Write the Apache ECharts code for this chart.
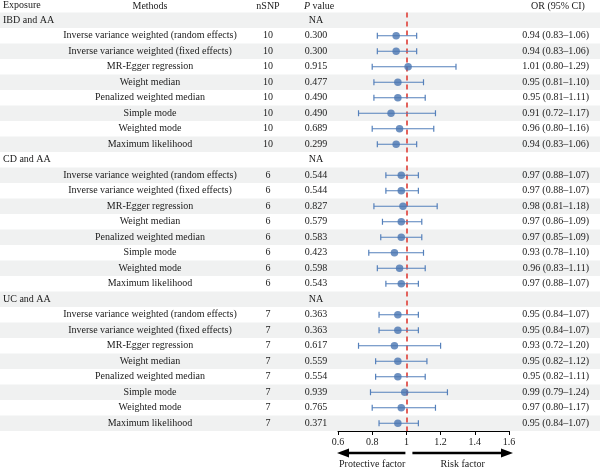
<!DOCTYPE html>
<html><head><meta charset="utf-8">
<script src="https://cdn.jsdelivr.net/npm/echarts@6/dist/echarts.min.js"></script>
<style>html,body{margin:0;padding:0;background:#fff}#c{width:600px;height:467px}</style>
</head><body><div id="c"></div>
<script>
const groups = ['IBD and AA', 'CD and AA', 'UC and AA'];
const methods = ['Inverse variance weighted (random effects)', 'Inverse variance weighted (fixed effects)', 'MR-Egger regression', 'Weight median', 'Penalized weighted median', 'Simple mode', 'Weighted mode', 'Maximum likelihood'];
const nSNP = [10, 6, 7];
const orIBD = [0.94, 0.94, 1.01, 0.95, 0.95, 0.91, 0.96, 0.94];
const loIBD = [0.83, 0.83, 0.80, 0.81, 0.81, 0.72, 0.80, 0.83];
const hiIBD = [1.06, 1.06, 1.29, 1.10, 1.11, 1.17, 1.16, 1.06];
const pIBD = ['0.300', '0.300', '0.915', '0.477', '0.490', '0.490', '0.689', '0.299'];
const orCD = [0.97, 0.97, 0.98, 0.97, 0.97, 0.93, 0.96, 0.97];
const loCD = [0.88, 0.88, 0.81, 0.86, 0.85, 0.78, 0.83, 0.88];
const hiCD = [1.07, 1.07, 1.18, 1.09, 1.09, 1.10, 1.11, 1.07];
const pCD = ['0.544', '0.544', '0.827', '0.579', '0.583', '0.423', '0.598', '0.543'];
const orUC = [0.95, 0.95, 0.93, 0.95, 0.95, 0.99, 0.97, 0.95];
const loUC = [0.84, 0.84, 0.72, 0.82, 0.82, 0.79, 0.80, 0.84];
const hiUC = [1.07, 1.07, 1.20, 1.12, 1.11, 1.24, 1.17, 1.07];
const pUC = ['0.363', '0.363', '0.617', '0.559', '0.554', '0.939', '0.765', '0.371'];
const xTicks = [0.6, 0.8, 1, 1.2, 1.4, 1.6];

const ORs = [orIBD, orCD, orUC], LOs = [loIBD, loCD, loUC], HIs = [hiIBD, hiCD, hiUC], Ps = [pIBD, pCD, pUC];
const FONT = 'Liberation Serif';
const TXT = '#1a1a1a';
const fmt = v => v.toFixed(2);

// Build rows
const rows = [];
groups.forEach((g, gi) => {
  rows.push({group: g});
  methods.forEach((m, mi) => {
    rows.push({method: m, n: nSNP[gi], p: Ps[gi][mi], or: ORs[gi][mi], lo: LOs[gi][mi], hi: HIs[gi][mi]});
  });
});
const cats = rows.map((r, i) => String(i));

const chart = echarts.init(document.getElementById('c'), null, {renderer: 'canvas'});

const stripeData = rows.map((r, i) => [1, i]).filter(d => d[1] % 2 === 0);
const barData = [], ptData = [];
rows.forEach((r, i) => { if (r.method) { barData.push([r.lo, r.hi, i]); ptData.push([r.or, i]); } });

function txt(x, y, s, align, extra) {
  return {type: 'text', style: Object.assign({x: x, y: y, text: s, align: align, verticalAlign: 'middle', fill: TXT, font: '10px "' + FONT + '"'}, extra || {})};
}

const option = {
  animation: false,
  grid: {left: 338, right: 91, top: 12.5, bottom: 36},
  xAxis: {
    type: 'value', min: 0.6, max: 1.6, interval: 0.2,
    axisLine: {show: true, lineStyle: {color: '#000', width: 1}},
    axisTick: {show: true, length: 4, lineStyle: {color: '#000'}},
    axisLabel: {color: TXT, fontFamily: FONT, fontSize: 10, margin: 6, formatter: v => String(+v.toFixed(1))},
    splitLine: {show: false}
  },
  yAxis: {type: 'category', data: cats, inverse: true, show: false},
  series: [
    {
      type: 'custom', name: 'stripes', z: 0, clip: false, silent: true,
      data: stripeData,
      renderItem: (params, api) => {
        const c = api.coord([api.value(0), api.value(1)]);
        const h = api.size([0, 1])[1];
        return {type: 'rect', shape: {x: 0, y: c[1] - h / 2, width: api.getWidth(), height: h}, style: {fill: '#f0f1f1'}};
      }
    },
    {
      type: 'custom', name: 'table', z: 5, clip: false, silent: true,
      data: rows.map((r, i) => [1, i]),
      renderItem: (params, api) => {
        const i = api.value(1);
        const r = rows[i];
        const y = api.coord([1, i])[1];
        const ch = [];
        if (r.group) {
          ch.push(txt(3, y, r.group, 'left'));
          ch.push(txt(316, y, 'NA', 'center'));
        } else {
          ch.push(txt(150, y, r.method, 'center'));
          ch.push(txt(268, y, String(r.n), 'center'));
          ch.push(txt(316, y, r.p, 'center'));
          ch.push(txt(589, y, fmt(r.or) + ' (' + fmt(r.lo) + '\u2013' + fmt(r.hi) + ')', 'right'));
        }
        return {type: 'group', children: ch};
      }
    },
    {
      type: 'custom', name: 'ci', z: 6,
      data: barData,
      renderItem: (params, api) => {
        const a = api.coord([api.value(0), api.value(2)]);
        const b = api.coord([api.value(1), api.value(2)]);
        const st = {stroke: '#5580bb', lineWidth: 1.2};
        return {type: 'group', children: [
          {type: 'line', shape: {x1: a[0], y1: a[1], x2: b[0], y2: b[1]}, style: st},
          {type: 'line', shape: {x1: a[0], y1: a[1] - 3, x2: a[0], y2: a[1] + 3}, style: st},
          {type: 'line', shape: {x1: b[0], y1: b[1] - 3, x2: b[0], y2: b[1] + 3}, style: st}
        ]};
      }
    },
    {
      type: 'scatter', name: 'or', z: 7, symbol: 'circle', symbolSize: 7.5,
      itemStyle: {color: '#4a75b2'},
      data: ptData,
      markLine: {
        silent: true, symbol: ['none', 'none'], label: {show: false},
        lineStyle: {color: '#e3625c', type: [5, 4], width: 2},
        data: [{xAxis: 1}]
      }
    }
  ],
  graphic: []
};
chart.setOption(option);

// Header and bottom annotations
const x06 = chart.convertToPixel({xAxisIndex: 0}, 0.6);
const x1 = chart.convertToPixel({xAxisIndex: 0}, 1);
const x16 = chart.convertToPixel({xAxisIndex: 0}, 1.6);
const ay = 453;
const hdrY = 6;
const hfont = '10px "' + FONT + '"';
chart.setOption({graphic: [
  {type: 'text', left: 3, top: hdrY - 6, style: {text: 'Exposure', fill: TXT, font: hfont}},
  {type: 'text', x: 150, y: hdrY, style: {text: 'Methods', fill: TXT, font: hfont, align: 'center', verticalAlign: 'middle'}},
  {type: 'text', x: 268, y: hdrY, style: {text: 'nSNP', fill: TXT, font: hfont, align: 'center', verticalAlign: 'middle'}},
  {type: 'text', x: 304, y: hdrY, style: {text: '{i|P} value', fill: TXT, font: hfont, align: 'left', verticalAlign: 'middle', rich: {i: {fontStyle: 'italic', fontFamily: FONT, fontSize: 10, fill: TXT}}}},
  {type: 'text', x: 558, y: hdrY, style: {text: 'OR (95% CI)', fill: TXT, font: hfont, align: 'center', verticalAlign: 'middle'}},
  // left arrow
  {type: 'line', shape: {x1: x1 - 1, y1: ay, x2: x06 + 8, y2: ay}, style: {stroke: '#000', lineWidth: 2.5}},
  {type: 'polygon', shape: {points: [[x06 - 1, ay], [x06 + 11, ay - 4.5], [x06 + 11, ay + 4.5]]}, style: {fill: '#000'}},
  // right arrow
  {type: 'line', shape: {x1: x1 + 6, y1: ay, x2: x16 - 4, y2: ay}, style: {stroke: '#000', lineWidth: 2.5}},
  {type: 'polygon', shape: {points: [[x16 + 4, ay], [x16 - 8, ay - 4.5], [x16 - 8, ay + 4.5]]}, style: {fill: '#000'}},
  {type: 'text', x: (x06 + x1) / 2, y: 464, style: {text: 'Protective factor', fill: TXT, font: hfont, align: 'center', verticalAlign: 'middle'}},
  {type: 'text', x: (x1 + 6 + x16 + 4) / 2, y: 464, style: {text: 'Risk factor', fill: TXT, font: hfont, align: 'center', verticalAlign: 'middle'}}
]});
</script>
</body></html>
